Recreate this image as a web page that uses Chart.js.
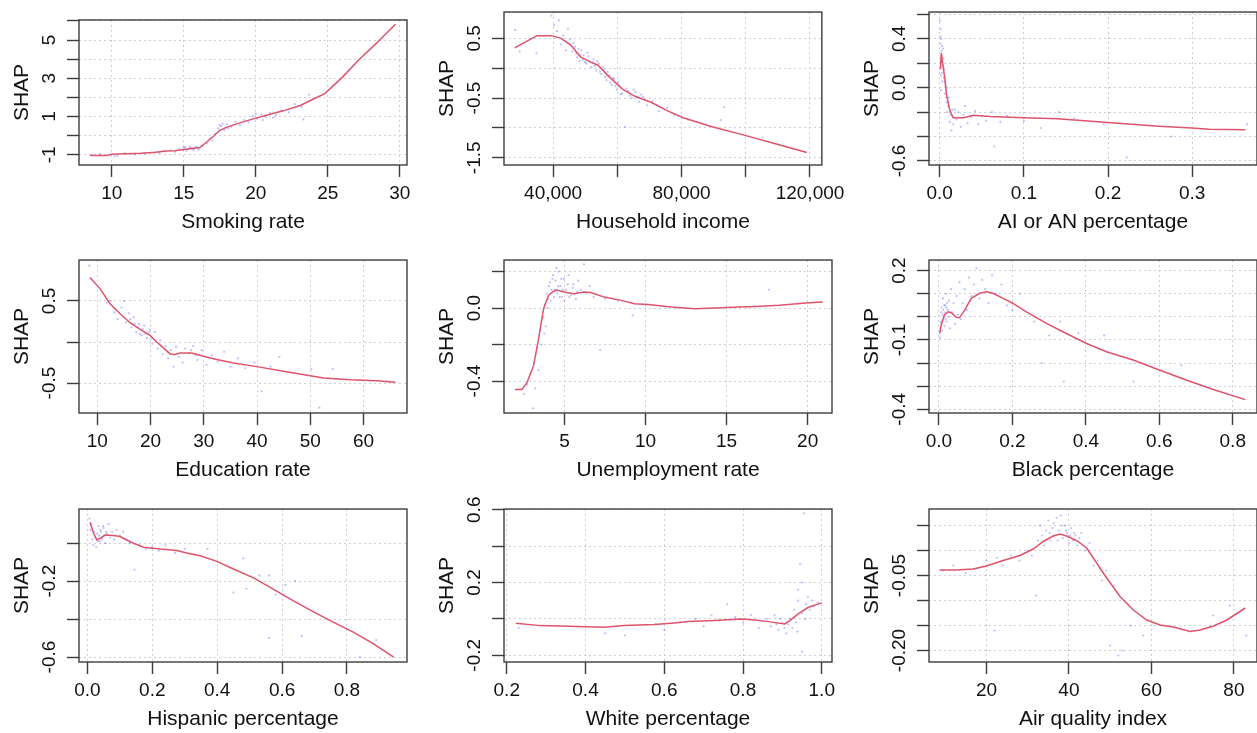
<!DOCTYPE html>
<html>
<head>
<meta charset="utf-8">
<script src="https://cdn.jsdelivr.net/npm/chart.js@4.4.1/dist/chart.umd.min.js"></script>
<style>
  html, body { margin: 0; background: #fff; }
  #wrap { position: relative; width: 1257px; height: 733px; overflow: hidden; }
  #wrap canvas { position: absolute; }
</style>
</head>
<body>
<div id="wrap"></div>
<script>
// fitted SHAP curves ([feature value, SHAP]) and the raw SHAP dots, one pair per panel
const smokingLine = [[8.5,-1.03],[9.65,-1.03],[10.0,-0.97],[12.0,-0.92],[12.9,-0.88],[13.8,-0.8],[14.4,-0.78],[15.0,-0.72],[16.1,-0.62],[16.6,-0.33],[17.1,0.0],[17.5,0.28],[18.2,0.5],[18.9,0.67],[20.0,0.92],[20.8,1.08],[21.9,1.3],[23.1,1.58],[24.0,1.92],[24.8,2.2],[26.0,3.05],[27.2,4.0],[28.4,4.85],[29.7,5.83]];
const smokingDots = [[8.6,-1.0],[9.2,-0.95],[10.2,-1.08],[10.4,-1.05],[10.9,-0.9],[11.6,-0.98],[12.3,-0.93],[12.8,-0.86],[13.3,-0.9],[13.7,-0.82],[14.1,-0.76],[14.4,-0.84],[14.7,-0.68],[14.9,-0.74],[15.0,-0.62],[15.1,-0.6],[15.2,-0.78],[15.3,-0.7],[15.4,-0.58],[15.5,-0.64],[15.6,-0.7],[15.7,-0.75],[15.8,-0.62],[15.9,-0.58],[16.0,-0.72],[16.1,-0.68],[16.3,-0.55],[16.6,-0.4],[16.8,-0.15],[17.0,-0.25],[17.2,0.1],[17.4,0.38],[17.5,0.55],[17.6,0.5],[17.7,0.62],[17.8,0.28],[17.9,0.45],[18.0,0.6],[18.1,0.38],[18.3,0.45],[18.6,0.72],[18.9,0.55],[19.2,0.82],[19.5,0.7],[19.8,1.02],[20.0,1.15],[20.1,0.88],[20.4,1.12],[20.5,0.82],[20.7,0.98],[21.0,1.2],[21.2,0.95],[21.4,1.08],[21.8,1.32],[22.3,1.22],[22.7,1.65],[23.2,1.5],[23.3,0.85],[23.7,2.15]];

const incomeLine = [[28000,0.34],[35000,0.545],[39500,0.545],[42500,0.5],[45500,0.387],[48500,0.19],[51500,0.106],[54000,0.05],[57000,-0.12],[61500,-0.345],[65500,-0.47],[70500,-0.57],[75500,-0.71],[80500,-0.83],[89500,-0.98],[99500,-1.12],[109500,-1.27],[119000,-1.41]];
const incomeDots = [[28200,0.64],[29600,0.28],[34800,0.25],[39500,0.88],[40300,0.72],[41200,0.62],[41800,0.8],[42400,0.4],[43100,0.55],[44000,0.3],[44600,0.66],[45300,0.48],[46000,0.28],[46400,0.42],[46800,0.36],[47200,0.25],[47500,0.18],[47900,0.32],[48200,0.12],[48500,0.22],[48800,0.3],[49200,0.14],[49500,0.22],[49900,0.1],[50300,0.08],[50700,0.26],[51000,0.2],[51400,0.12],[51800,0.02],[52200,0.1],[52600,0.15],[53000,0.04],[53400,-0.04],[53800,0.12],[54200,0.08],[54600,-0.06],[55000,-0.1],[55400,0.02],[55800,-0.02],[56200,-0.14],[56600,-0.2],[57000,-0.06],[57400,-0.12],[57800,-0.24],[58200,-0.28],[58600,-0.16],[59000,-0.18],[59400,-0.3],[59800,-0.36],[60200,-0.24],[60700,-0.3],[61100,-0.44],[61500,-0.42],[62300,-0.98],[62800,-0.34],[63300,-0.38],[64000,-0.46],[64500,-0.5],[65100,-0.36],[65700,-0.4],[66200,-0.5],[66800,-0.56],[67400,-0.44],[68000,-0.48],[69300,-0.62],[71000,-0.55],[73000,-0.72],[75500,-0.66],[77800,-0.78],[82000,-0.86],[92200,-0.87],[93300,-0.65],[105300,-1.16]];

const aianLine = [[0.0008,0.15],[0.002,0.285],[0.0035,0.2],[0.006,0.08],[0.008,-0.05],[0.012,-0.185],[0.016,-0.245],[0.028,-0.245],[0.04,-0.225],[0.06,-0.235],[0.1,-0.245],[0.14,-0.255],[0.18,-0.275],[0.22,-0.295],[0.26,-0.315],[0.3,-0.33],[0.32,-0.34],[0.363,-0.345]];
const aianDots = [[0.0005,0.55],[0.001,0.42],[0.0012,0.48],[0.0015,0.36],[0.0018,0.4],[0.002,0.3],[0.001,0.22],[0.0022,0.26],[0.0025,0.12],[0.0028,0.34],[0.003,0.05],[0.0015,-0.02],[0.0012,0.1],[0.004,0.32],[0.0035,0.18],[0.0042,0.24],[0.005,0.08],[0.0055,0.15],[0.006,-0.05],[0.0065,0.05],[0.007,0.02],[0.0075,-0.08],[0.008,-0.12],[0.0085,0.0],[0.009,-0.2],[0.01,-0.15],[0.011,-0.08],[0.012,-0.28],[0.013,-0.22],[0.014,-0.35],[0.015,-0.18],[0.016,-0.3],[0.018,-0.18],[0.02,-0.26],[0.022,-0.2],[0.025,-0.32],[0.028,-0.22],[0.03,-0.15],[0.033,-0.29],[0.037,-0.24],[0.042,-0.19],[0.046,-0.3],[0.05,-0.23],[0.055,-0.27],[0.062,-0.2],[0.065,-0.48],[0.072,-0.28],[0.08,-0.23],[0.1,-0.27],[0.12,-0.33],[0.142,-0.2],[0.16,-0.25],[0.195,-0.3],[0.222,-0.57],[0.275,-0.4],[0.365,-0.3]];

const educationLine = [[8.62,0.786],[10.5,0.651],[12.38,0.467],[14.26,0.345],[16.14,0.235],[18.02,0.153],[19.9,0.08],[21.15,0.0],[22.4,-0.071],[23.66,-0.145],[24.6,-0.153],[25.54,-0.133],[27.73,-0.133],[29.92,-0.173],[32.43,-0.214],[35.56,-0.255],[39.95,-0.3],[44.96,-0.357],[49.97,-0.41],[52.48,-0.439],[57.49,-0.459],[62.5,-0.471],[65.95,-0.49]];
const educationDots = [[8.5,0.93],[11.8,0.48],[12.5,0.5],[13.2,0.36],[13.8,0.28],[14.5,0.42],[15.0,0.5],[15.4,0.24],[15.9,0.35],[16.2,0.28],[16.4,0.18],[16.8,0.3],[17.0,0.22],[17.3,0.12],[17.6,0.18],[17.8,0.22],[18.0,0.1],[18.3,0.08],[18.5,0.16],[18.8,0.2],[19.0,0.1],[19.3,0.05],[19.6,0.12],[19.8,0.15],[20.0,0.04],[20.3,-0.02],[20.8,0.12],[21.3,-0.08],[21.8,0.02],[22.3,-0.15],[22.8,-0.05],[23.3,-0.2],[23.8,-0.1],[24.3,-0.3],[24.8,-0.06],[25.3,-0.18],[26.0,-0.25],[26.5,-0.08],[27.2,-0.14],[27.6,-0.1],[28.0,-0.05],[28.4,-0.16],[28.8,-0.22],[29.6,-0.1],[30.5,-0.28],[31.5,-0.16],[32.6,-0.24],[33.8,-0.12],[35.0,-0.3],[36.4,-0.2],[37.8,-0.32],[39.5,-0.25],[40.8,-0.6],[42.5,-0.3],[44.2,-0.18],[50.2,-0.33],[51.7,-0.8],[54.2,-0.33]];

const unemploymentLine = [[1.95,-0.446],[2.37,-0.446],[2.68,-0.41],[3.09,-0.317],[3.4,-0.17],[3.71,-0.004],[4.02,0.07],[4.34,0.092],[4.54,0.098],[4.96,0.088],[5.58,0.079],[6.2,0.088],[6.62,0.085],[7.45,0.06],[8.49,0.042],[9.32,0.024],[10.15,0.02],[11.6,0.006],[13.05,-0.004],[14.29,0.0],[15.75,0.006],[16.78,0.009],[18.24,0.015],[19.9,0.028],[20.93,0.033]];
const unemploymentDots = [[2.5,-0.47],[2.7,-0.42],[2.9,-0.36],[3.05,-0.55],[3.1,-0.3],[3.2,-0.44],[3.3,-0.22],[3.4,-0.34],[3.5,-0.12],[3.6,-0.2],[3.7,-0.05],[3.75,-0.14],[3.8,0.02],[3.85,-0.1],[3.9,0.08],[3.95,0.0],[4.0,0.05],[4.05,0.12],[4.1,0.14],[4.15,0.04],[4.2,0.1],[4.25,0.16],[4.3,0.18],[4.35,0.06],[4.4,0.1],[4.45,0.15],[4.5,0.22],[4.55,0.08],[4.6,0.12],[4.65,0.2],[4.7,0.06],[4.75,0.12],[4.8,0.16],[4.85,0.06],[4.9,0.1],[4.95,0.16],[5.0,0.04],[5.1,0.1],[5.2,0.13],[5.25,0.18],[5.3,0.06],[5.4,0.07],[5.5,0.11],[5.55,0.13],[5.7,0.05],[5.8,0.09],[5.85,0.15],[6.0,0.1],[6.2,0.24],[6.35,0.08],[6.55,0.12],[6.8,0.06],[7.2,-0.23],[7.5,0.05],[8.3,0.04],[9.2,-0.04],[17.6,0.1]];

const blackLine = [[0.002,-0.072],[0.006,-0.036],[0.015,0.008],[0.025,0.022],[0.034,0.018],[0.047,-0.002],[0.056,-0.004],[0.07,0.029],[0.088,0.08],[0.111,0.102],[0.129,0.109],[0.147,0.102],[0.175,0.08],[0.202,0.058],[0.238,0.022],[0.293,-0.028],[0.347,-0.072],[0.402,-0.115],[0.456,-0.151],[0.529,-0.187],[0.602,-0.231],[0.675,-0.274],[0.747,-0.314],[0.834,-0.358]];
const blackDots = [[0.003,-0.09],[0.004,-0.05],[0.005,-0.02],[0.006,0.02],[0.007,0.04],[0.008,-0.03],[0.009,-0.06],[0.01,0.01],[0.011,0.08],[0.012,0.03],[0.013,0.0],[0.014,0.05],[0.015,-0.04],[0.016,0.02],[0.017,0.05],[0.018,-0.01],[0.019,0.1],[0.02,0.04],[0.021,-0.02],[0.022,0.06],[0.024,0.03],[0.026,0.0],[0.027,0.07],[0.03,-0.05],[0.033,0.12],[0.036,0.02],[0.04,0.06],[0.044,-0.03],[0.048,0.09],[0.052,0.01],[0.056,0.15],[0.06,-0.01],[0.065,0.06],[0.07,0.12],[0.076,0.03],[0.082,0.17],[0.088,0.09],[0.095,0.14],[0.102,0.21],[0.11,0.08],[0.118,0.16],[0.126,0.12],[0.135,0.06],[0.145,0.18],[0.155,0.1],[0.17,0.14],[0.185,0.05],[0.2,0.03],[0.22,0.1],[0.26,-0.02],[0.28,-0.2],[0.3,-0.08],[0.33,-0.02],[0.34,-0.28],[0.38,-0.07],[0.45,-0.08],[0.53,-0.28],[0.66,-0.21]];

const hispanicLine = [[0.008,0.11],[0.019,0.052],[0.029,0.017],[0.039,0.026],[0.054,0.043],[0.08,0.04],[0.101,0.035],[0.121,0.017],[0.142,0.0],[0.173,-0.021],[0.224,-0.031],[0.276,-0.038],[0.306,-0.052],[0.348,-0.066],[0.399,-0.096],[0.45,-0.136],[0.512,-0.183],[0.574,-0.243],[0.635,-0.304],[0.697,-0.362],[0.759,-0.417],[0.821,-0.47],[0.882,-0.53],[0.944,-0.6]];
const hispanicDots = [[0.006,0.13],[0.009,0.07],[0.012,0.1],[0.015,0.02],[0.018,-0.01],[0.021,0.06],[0.024,0.03],[0.027,-0.02],[0.03,0.05],[0.032,0.01],[0.034,0.09],[0.036,0.04],[0.038,0.01],[0.04,0.07],[0.042,0.06],[0.044,0.02],[0.046,0.03],[0.048,0.09],[0.05,0.08],[0.053,0.04],[0.055,0.0],[0.058,0.06],[0.06,0.05],[0.065,0.1],[0.07,0.03],[0.076,0.06],[0.082,0.02],[0.09,0.07],[0.1,0.04],[0.11,0.06],[0.12,0.02],[0.13,0.0],[0.145,-0.14],[0.16,-0.01],[0.18,-0.03],[0.2,-0.02],[0.22,-0.04],[0.24,-0.01],[0.27,-0.05],[0.3,-0.03],[0.33,-0.06],[0.37,-0.03],[0.45,-0.26],[0.48,-0.08],[0.49,-0.24],[0.53,-0.17],[0.56,-0.17],[0.56,-0.5],[0.58,-0.27],[0.61,-0.22],[0.64,-0.2],[0.66,-0.49],[0.84,-0.6],[0.89,-0.51]];

const whiteLine = [[0.223,-0.024],[0.285,-0.037],[0.379,-0.042],[0.447,-0.046],[0.498,-0.037],[0.574,-0.031],[0.626,-0.022],[0.66,-0.015],[0.728,-0.009],[0.796,0.0],[0.83,-0.006],[0.864,-0.015],[0.906,-0.028],[0.919,-0.009],[0.94,0.028],[0.966,0.064],[1.0,0.088]];
const whiteDots = [[0.23,-0.05],[0.45,-0.08],[0.5,-0.09],[0.6,-0.06],[0.64,-0.02],[0.68,0.0],[0.7,-0.04],[0.72,0.02],[0.74,-0.01],[0.76,0.08],[0.78,0.01],[0.8,-0.02],[0.82,0.02],[0.84,-0.05],[0.85,-0.01],[0.86,0.0],[0.87,-0.04],[0.88,0.02],[0.885,-0.03],[0.89,-0.06],[0.895,0.0],[0.9,-0.02],[0.905,-0.05],[0.91,-0.08],[0.915,-0.03],[0.92,0.0],[0.925,-0.05],[0.93,0.05],[0.935,-0.02],[0.938,-0.07],[0.94,0.1],[0.94,0.16],[0.945,0.3],[0.95,0.2],[0.95,0.03],[0.95,-0.18],[0.955,0.58],[0.958,0.0],[0.96,0.08],[0.965,0.12],[0.97,0.05],[0.975,0.1],[0.98,0.07],[0.99,0.09]];

const airLine = [[8.66,-0.039],[12.71,-0.039],[16.76,-0.037],[20.0,-0.031],[24.05,-0.02],[28.1,-0.01],[31.34,0.003],[33.77,0.018],[36.19,0.029],[37.81,0.033],[39.43,0.029],[41.86,0.02],[44.29,0.005],[46.72,-0.025],[49.15,-0.055],[52.39,-0.092],[55.63,-0.119],[58.87,-0.139],[62.11,-0.149],[65.34,-0.153],[69.39,-0.162],[71.82,-0.159],[75.06,-0.151],[78.3,-0.139],[82.75,-0.115]];
const airDots = [[9.5,-0.04],[12,-0.03],[15,-0.045],[18,-0.035],[20,-0.02],[22,-0.16],[22.5,-0.015],[24,-0.03],[26,-0.01],[28,-0.02],[30,0.0],[31,-0.01],[32,-0.09],[32.5,0.02],[33,0.05],[33.5,0.03],[34,0.01],[34.5,0.04],[35,0.06],[35.3,0.035],[35.5,0.02],[36,0.045],[36.3,0.055],[36.5,0.03],[37,0.065],[37.3,0.02],[37.5,0.04],[38,0.07],[38.3,0.05],[38.5,0.025],[39,0.05],[39.3,0.04],[39.5,0.035],[40,0.015],[40.3,0.03],[40.5,0.045],[41,0.02],[41.3,0.035],[41.5,0.03],[42,0.01],[42.5,0.025],[43,0.035],[44,0.0],[45,0.015],[46,-0.03],[47,-0.02],[48,-0.06],[49,-0.04],[50,-0.19],[51,-0.07],[52,-0.21],[53,-0.2],[55,-0.15],[58,-0.17],[75,-0.13],[79,-0.11],[83,-0.17]];

// axis ticks; an empty label means R dropped it
const smokingXTicks = [10, 15, 20, 25, 30];
const smokingXLabels = ['10', '15', '20', '25', '30'];
const smokingYTicks = [-1, 0, 1, 2, 3, 4, 5, 6];
const smokingYLabels = ['-1', '', '1', '', '3', '', '5', ''];
const incomeXTicks = [40000, 60000, 80000, 100000, 120000];
const incomeXLabels = ['40,000', '', '80,000', '', '120,000'];
const incomeYTicks = [-1.5, -1, -0.5, 0, 0.5];
const incomeYLabels = ['-1.5', '', '-0.5', '', '0.5'];
const aianXTicks = [0, 0.1, 0.2, 0.3];
const aianXLabels = ['0.0', '0.1', '0.2', '0.3'];
const aianYTicks = [-0.6, -0.4, -0.2, 0, 0.2, 0.4, 0.6];
const aianYLabels = ['-0.6', '', '', '0.0', '', '0.4', ''];
const educationXTicks = [10, 20, 30, 40, 50, 60];
const educationXLabels = ['10', '20', '30', '40', '50', '60'];
const educationYTicks = [-0.5, 0, 0.5];
const educationYLabels = ['-0.5', '', '0.5'];
const unemploymentXTicks = [5, 10, 15, 20];
const unemploymentXLabels = ['5', '10', '15', '20'];
const unemploymentYTicks = [-0.4, -0.2, 0, 0.2];
const unemploymentYLabels = ['-0.4', '', '0.0', ''];
const blackXTicks = [0, 0.2, 0.4, 0.6, 0.8];
const blackXLabels = ['0.0', '0.2', '0.4', '0.6', '0.8'];
const blackYTicks = [-0.4, -0.3, -0.2, -0.1, 0, 0.1, 0.2];
const blackYLabels = ['-0.4', '', '', '-0.1', '', '', '0.2'];
const hispanicXTicks = [0, 0.2, 0.4, 0.6, 0.8];
const hispanicXLabels = ['0.0', '0.2', '0.4', '0.6', '0.8'];
const hispanicYTicks = [-0.6, -0.4, -0.2, 0];
const hispanicYLabels = ['-0.6', '', '-0.2', ''];
const whiteXTicks = [0.2, 0.4, 0.6, 0.8, 1.0];
const whiteXLabels = ['0.2', '0.4', '0.6', '0.8', '1.0'];
const whiteYTicks = [-0.2, 0, 0.2, 0.4, 0.6];
const whiteYLabels = ['-0.2', '', '0.2', '', '0.6'];
const airXTicks = [20, 40, 60, 80];
const airXLabels = ['20', '40', '60', '80'];
const airYTicks = [-0.2, -0.15, -0.1, -0.05, 0, 0.05];
const airYLabels = ['-0.20', '', '', '-0.05', '', ''];

const panels = [
  { title: 'Smoking rate', line: smokingLine, dots: smokingDots, x: [7.73, 30.5], y: [-1.53, 6.05], xt: smokingXTicks, xl: smokingXLabels, yt: smokingYTicks, yl: smokingYLabels },
  { title: 'Household income', line: incomeLine, dots: incomeDots, x: [24700, 123700], y: [-1.62, 0.94], xt: incomeXTicks, xl: incomeXLabels, yt: incomeYTicks, yl: incomeYLabels },
  { title: 'AI or AN percentage', line: aianLine, dots: aianDots, x: [-0.0127, 0.377], y: [-0.633, 0.62], xt: aianXTicks, xl: aianXLabels, yt: aianYTicks, yl: aianYLabels },
  { title: 'Education rate', line: educationLine, dots: educationDots, x: [6.55, 68.15], y: [-0.865, 0.999], xt: educationXTicks, xl: educationXLabels, yt: educationYTicks, yl: educationYLabels },
  { title: 'Unemployment rate', line: unemploymentLine, dots: unemploymentDots, x: [1.27, 21.5], y: [-0.575, 0.263], xt: unemploymentXTicks, xl: unemploymentXLabels, yt: unemploymentYTicks, yl: unemploymentYLabels },
  { title: 'Black percentage', line: blackLine, dots: blackDots, x: [-0.027, 0.866], y: [-0.416, 0.246], xt: blackXTicks, xl: blackXLabels, yt: blackYTicks, yl: blackYLabels },
  { title: 'Hispanic percentage', line: hispanicLine, dots: hispanicDots, x: [-0.026, 0.985], y: [-0.626, 0.18], xt: hispanicXTicks, xl: hispanicXLabels, yt: hispanicYTicks, yl: hispanicYLabels },
  { title: 'White percentage', line: whiteLine, dots: whiteDots, x: [0.193, 1.026], y: [-0.237, 0.604], xt: whiteXTicks, xl: whiteXLabels, yt: whiteYTicks, yl: whiteYLabels },
  { title: 'Air quality index', line: airLine, dots: airDots, x: [6.07, 85.6], y: [-0.223, 0.083], xt: airXTicks, xl: airXLabels, yt: airYTicks, yl: airYLabels },
];

const FONT = "'Liberation Sans', Arial, sans-serif";
const INK = '#111';
const AXIS = '#3c3c3c';

// R draws a full box round the plot region
const boxPlugin = {
  id: 'box',
  afterDraw(chart) {
    const { ctx, chartArea: a } = chart;
    ctx.save();
    ctx.strokeStyle = AXIS;
    ctx.lineWidth = 1.4;
    ctx.strokeRect(a.left, a.top, a.right - a.left, a.bottom - a.top);
    ctx.restore();
  }
};

// used to centre the rotated y tick labels at a fixed distance from the box
const measure = document.createElement('canvas').getContext('2d');
measure.font = '19px ' + FONT;

const wrap = document.getElementById('wrap');
const rowTops = [0, 248, 497];

panels.forEach((p, i) => {
  const canvas = document.createElement('canvas');
  canvas.width = 425;
  canvas.height = 249;
  canvas.style.left = (i % 3) * 425 + 'px';
  canvas.style.top = rowTops[Math.floor(i / 3)] + 'px';
  wrap.appendChild(canvas);

  const widest = Math.max(...p.yl.map(s => measure.measureText(s).width));

  new Chart(canvas, {
    type: 'scatter',
    data: {
      datasets: [
        {
          data: p.line.map(([x, y]) => ({ x, y })),
          showLine: true,
          borderColor: '#DF536B',
          borderWidth: 1.5,
          pointRadius: 0,
          tension: 0
        },
        {
          data: p.dots.map(([x, y]) => ({ x, y })),
          pointRadius: 1.1,
          pointBorderWidth: 0,
          pointBackgroundColor: 'rgba(70, 70, 255, 0.35)'
        }
      ]
    },
    options: {
      responsive: false,
      animation: false,
      events: [],
      layout: { padding: { top: 12, right: 18, bottom: 0, left: 0 } },
      plugins: { legend: { display: false }, tooltip: { enabled: false } },
      scales: {
        x: {
          type: 'linear',
          min: p.x[0],
          max: p.x[1],
          afterBuildTicks: s => { s.ticks = p.xt.map(v => ({ value: v })); },
          afterFit: s => { s.height = 84; },
          ticks: {
            autoSkip: false, maxRotation: 0, padding: 5, color: INK,
            font: { family: FONT, size: 19 },
            callback: (v, idx) => p.xl[idx]
          },
          grid: { color: '#cfcfcf', lineWidth: 1, tickLength: 12, tickColor: AXIS, tickWidth: 1.4 },
          border: { display: false, dash: [2, 3] },
          title: { display: true, text: p.title, color: INK, font: { family: FONT, size: 21 }, padding: { top: 0, bottom: 14 } }
        },
        y: {
          type: 'linear',
          min: p.y[0],
          max: p.y[1],
          afterBuildTicks: s => { s.ticks = p.yt.map(v => ({ value: v })); },
          afterFit: s => { s.width = 79; },
          ticks: {
            autoSkip: false, minRotation: 90, maxRotation: 90, crossAlign: 'center',
            padding: 17 - widest / 2, color: INK,
            font: { family: FONT, size: 19 },
            callback: (v, idx) => p.yl[idx]
          },
          grid: { color: '#cfcfcf', lineWidth: 1, tickLength: 12, tickColor: AXIS, tickWidth: 1.4 },
          border: { display: false, dash: [2, 3] },
          title: { display: true, text: 'SHAP', color: INK, font: { family: FONT, size: 21 }, padding: { top: 10, bottom: 0 } }
        }
      }
    },
    plugins: [boxPlugin]
  });
});
</script>
</body>
</html>
